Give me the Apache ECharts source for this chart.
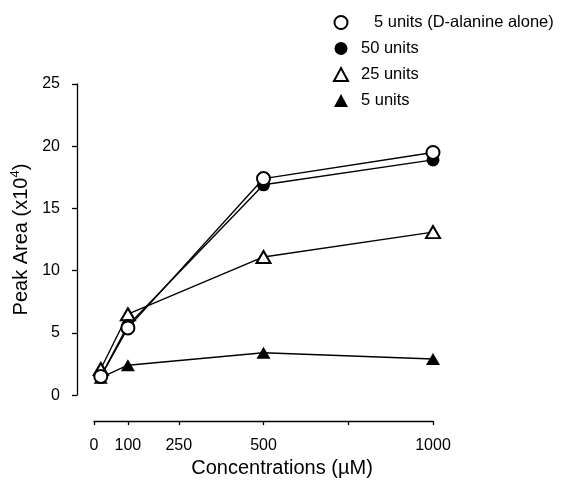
<!DOCTYPE html>
<html>
<head>
<meta charset="utf-8">
<script src="https://cdn.jsdelivr.net/npm/echarts@6/dist/echarts.min.js"></script>
<style>
  html, body { margin: 0; padding: 0; background: #fff; }
  #chart { width: 562px; height: 483px; }
</style>
</head>
<body>
<div id="chart"></div>
<script>
// Data
var concentrations = [20, 100, 500, 1000];
var dAlanineAlone = [1.5, 5.4, 17.4, 19.5];
var units50 = [1.5, 5.6, 16.9, 18.9];
var units25 = [2.1, 6.5, 11.1, 13.1];
var units5 = [1.4, 2.4, 3.4, 2.9];

var xTicks = [0, 100, 250, 500, 750, 1000];
var xLabels = [0, 100, 250, 500, 1000];

var seriesNames = ['5 units (D-alanine alone)', '50 units', '25 units', '5 units'];

function pairs(ys) {
  return concentrations.map(function (x, i) { return [x, ys[i]]; });
}

var chartDom = document.getElementById('chart');
var chart = echarts.init(chartDom);
var font = 'Liberation Sans, Arial, Helvetica, sans-serif';

var option = {
  backgroundColor: '#fff',
  animation: false,
  textStyle: { fontFamily: font, color: '#000' },
  legend: {
    orient: 'vertical',
    left: 328,
    top: 9,
    itemWidth: 14,
    itemHeight: 13,
    itemGap: 9,
    selectedMode: false,
    textStyle: {
      fontSize: 16.5,
      color: '#000',
      fontFamily: font,
      rich: {
        first: { fontSize: 16.5, fontFamily: font, color: '#000', padding: [0, 0, 0, 21] },
        rest: { fontSize: 16.5, fontFamily: font, color: '#000', padding: [0, 0, 0, 8] }
      }
    },
    formatter: function (name) {
      return name === seriesNames[0] ? '{first|' + name + '}' : '{rest|' + name + '}';
    },
    data: [
      { name: seriesNames[0], icon: 'emptyCircle' },
      { name: seriesNames[1], icon: 'circle' },
      { name: seriesNames[2], icon: 'emptyTriangle' },
      { name: seriesNames[3], icon: 'triangle' }
    ]
  },
  grid: {
    left: 94,
    right: 129,
    top: 84,
    bottom: 85
  },
  xAxis: {
    type: 'value',
    min: 0,
    max: 1000,
    offset: 26,
    name: 'Concentrations (\u00b5M)',
    nameLocation: 'middle',
    nameGap: 34,
    nameTextStyle: { fontSize: 20, color: '#000', padding: [0, 0, 0, 37] },
    axisLine: { onZero: false, lineStyle: { color: '#000', width: 1.3 } },
    axisTick: { customValues: xTicks, length: 4, lineStyle: { color: '#000', width: 1.3 } },
    axisLabel: {
      customValues: xLabels,
      fontSize: 16,
      color: '#000',
      margin: 16,
      formatter: function (v) { return String(v); }
    },
    splitLine: { show: false }
  },
  yAxis: {
    type: 'value',
    min: 0,
    max: 25,
    interval: 5,
    offset: 17,
    name: 'Peak Area (x10{sup|4})',
    nameLocation: 'middle',
    nameRotate: 90,
    nameGap: 42,
    nameTextStyle: {
      fontSize: 20,
      color: '#000',
      rich: { sup: { fontSize: 13, padding: [0, 0, 11, 0], color: '#000' } }
    },
    axisLine: { show: true, onZero: false, lineStyle: { color: '#000', width: 1.3 } },
    axisTick: { show: true, length: 5, lineStyle: { color: '#000', width: 1.3 } },
    axisLabel: { fontSize: 16, color: '#000', margin: 17 },
    splitLine: { show: false }
  },
  series: [
    {
      name: seriesNames[3],
      type: 'line',
      data: pairs(units5),
      symbol: 'triangle',
      symbolSize: [14, 12],
      z: 2,
      itemStyle: { color: '#000' },
      lineStyle: { color: '#000', width: 1.4 }
    },
    {
      name: seriesNames[2],
      type: 'line',
      data: pairs(units25),
      symbol: 'emptyTriangle',
      symbolSize: [14, 12],
      z: 3,
      itemStyle: { color: '#000', borderWidth: 1.6 },
      lineStyle: { color: '#000', width: 1.4 }
    },
    {
      name: seriesNames[1],
      type: 'line',
      data: pairs(units50),
      symbol: 'circle',
      symbolSize: 13,
      z: 4,
      itemStyle: { color: '#000' },
      lineStyle: { color: '#000', width: 1.4 }
    },
    {
      name: seriesNames[0],
      type: 'line',
      data: pairs(dAlanineAlone),
      symbol: 'emptyCircle',
      symbolSize: 13,
      z: 5,
      itemStyle: { color: '#000', borderWidth: 2.2 },
      lineStyle: { color: '#000', width: 1.4 }
    }
  ]
};

chart.setOption(option);
window.addEventListener('resize', function () {
  chart.resize();
});
</script>
</body>
</html>
